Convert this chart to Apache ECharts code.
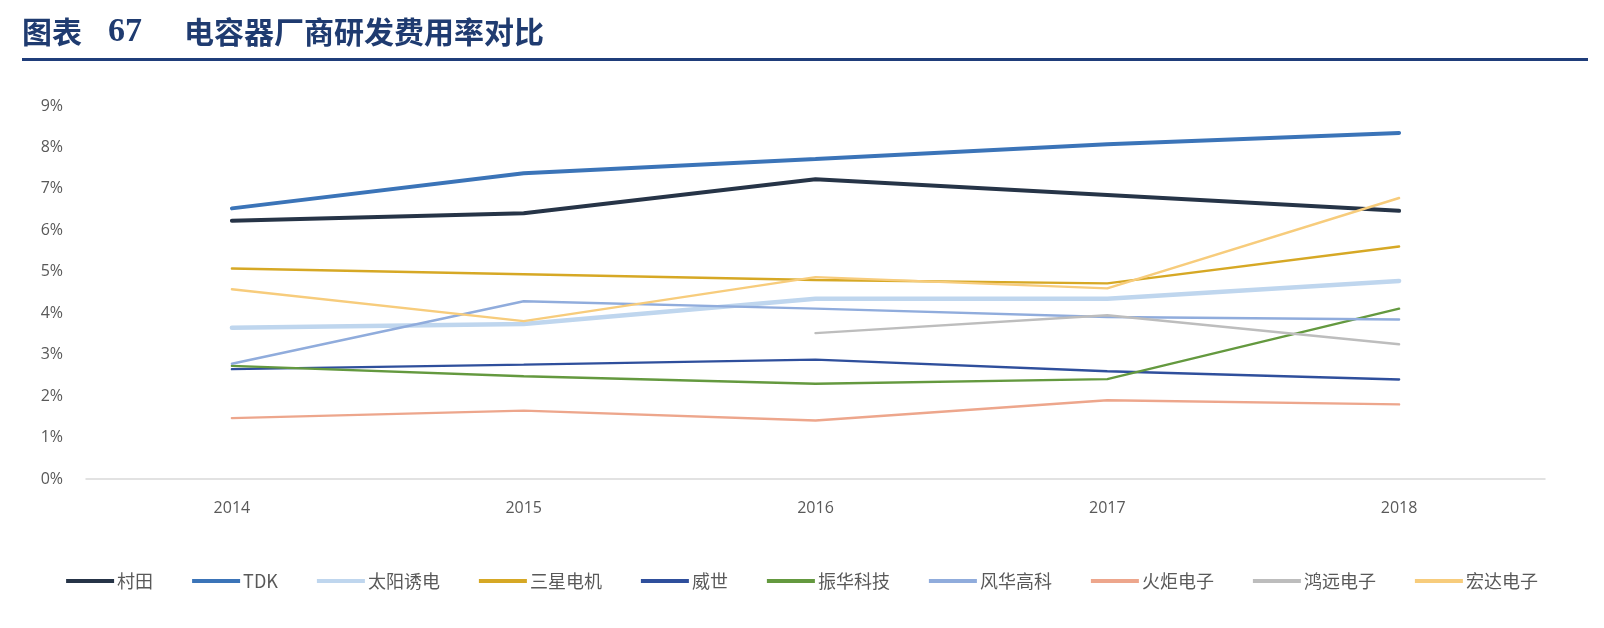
<!DOCTYPE html>
<html>
<head>
<meta charset="utf-8">
<script src="https://cdn.jsdelivr.net/npm/echarts@6/dist/echarts.min.js"></script>
<style>
html,body{margin:0;padding:0;background:#fff;}
#chart{width:1604px;height:628px;}
</style>
</head>
<body>
<div id="chart"></div>
<script>
const categories = ['2014', '2015', '2016', '2017', '2018'];
const yTicks = [0, 1, 2, 3, 4, 5, 6, 7, 8, 9];
const murata = [6.23, 6.41, 7.23, 6.85, 6.47];
const tdk = [6.53, 7.38, 7.72, 8.08, 8.35];
const taiyo = [3.65, 3.74, 4.35, 4.35, 4.78];
const samsung = [5.08, 4.94, 4.80, 4.72, 5.61];
const vishay = [2.65, 2.76, 2.88, 2.60, 2.40];
const zhenhua = [2.73, 2.48, 2.30, 2.41, 4.11];
const fenghua = [2.78, 4.29, 4.11, 3.91, 3.85];
const huoju = [1.47, 1.65, 1.41, 1.90, 1.80];
const hongyuan = [null, null, 3.52, 3.95, 3.25];
const hongda = [4.58, 3.81, 4.87, 4.60, 6.78];

const seriesDefs = [
  {name: '村田', data: murata, color: '#263447', width: 4},
  {name: 'TDK', data: tdk, color: '#3b74b8', width: 4},
  {name: '太阳诱电', data: taiyo, color: '#bfd6ee', width: 4.5},
  {name: '三星电机', data: samsung, color: '#d6a825', width: 2.4},
  {name: '威世', data: vishay, color: '#2f4f9c', width: 2.4},
  {name: '振华科技', data: zhenhua, color: '#64993f', width: 2.4},
  {name: '风华高科', data: fenghua, color: '#90acdc', width: 2.4},
  {name: '火炬电子', data: huoju, color: '#eda68c', width: 2.4},
  {name: '鸿远电子', data: hongyuan, color: '#bdbdbd', width: 2.4},
  {name: '宏达电子', data: hongda, color: '#f7cc7c', width: 2.4}
];

const chart = echarts.init(document.getElementById('chart'), null, {renderer: 'canvas'});
chart.setOption({
  animation: false,
  backgroundColor: '#ffffff',
  graphic: [
    {type: 'text', left: 22, top: 17, style: {text: '图表', font: 'bold 30px "Noto Sans CJK SC"', fill: '#1f3b70'}},
    {type: 'text', left: 108, top: 15, style: {text: '67', font: 'bold 34px "Liberation Serif"', fill: '#1f3b70'}},
    {type: 'text', left: 184, top: 17, style: {text: '电容器厂商研发费用率对比', font: 'bold 30px "Noto Sans CJK SC"', fill: '#1f3b70'}},
    {type: 'rect', shape: {x: 22, y: 58, width: 1566, height: 3}, style: {fill: '#1f3d7a'}}
  ],
  grid: {left: 86, right: 59, top: 106, bottom: 149, containLabel: false},
  legend: {
    bottom: 33,
    left: 'center',
    itemWidth: 48,
    itemHeight: 4,
    itemGap: 39,
    icon: 'rect',
    textStyle: {fontFamily: '"Noto Sans CJK SC"', fontSize: 18, color: '#595959', padding: [0, 0, 0, -2]},
    data: seriesDefs.map(s => ({name: s.name, itemStyle: {color: s.color}}))
  },
  xAxis: {
    type: 'category',
    data: categories,
    boundaryGap: true,
    axisLine: {show: true, lineStyle: {color: '#d9d9d9', width: 1.5}},
    axisTick: {show: false},
    axisLabel: {fontSize: 16, color: '#595959', margin: 21, fontFamily: '"Open Sans", "Noto Sans"'}
  },
  yAxis: {
    type: 'value',
    min: yTicks[0],
    max: yTicks[yTicks.length - 1],
    interval: 1,
    axisLine: {show: false},
    axisTick: {show: false},
    splitLine: {show: false},
    axisLabel: {fontSize: 16, color: '#595959', margin: 23, fontFamily: '"Open Sans", "Noto Sans"', formatter: v => v + '%'}
  },
  series: seriesDefs.map(s => ({
    name: s.name,
    type: 'line',
    data: s.data,
    symbol: 'none',
    connectNulls: false,
    lineStyle: {color: s.color, width: s.width, cap: 'round'},
    itemStyle: {color: s.color}
  }))
});
</script>
</body>
</html>
